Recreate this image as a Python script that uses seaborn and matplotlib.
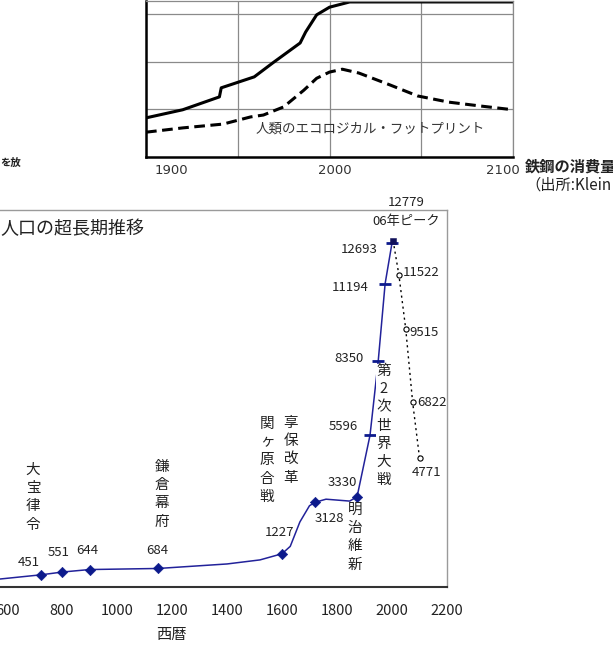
import matplotlib
matplotlib.use("Agg")
import matplotlib.pyplot as plt
import seaborn as sns

W, H = 613, 648

# upper panel (cropped): steel consumption (solid) and ecological footprint (dashed)
steel_year = [1900, 1920, 1940, 1941, 1959, 1969, 1984, 1987, 1993, 2000, 2011, 2100]
steel_val = [0.82, 0.99, 1.26, 1.45, 1.68, 1.97, 2.39, 2.62, 2.98, 3.14, 3.25, 3.25]
fp_year = [1900, 1920, 1942, 1957, 1964, 1975, 1986, 1993, 2000, 2007, 2016, 2033, 2048, 2065, 2082, 2100]
fp_val = [0.52, 0.61, 0.69, 0.84, 0.88, 1.05, 1.40, 1.65, 1.78, 1.84, 1.76, 1.51, 1.28, 1.15, 1.07, 0.99]

# lower panel: population (10 thousand people)
hist_year = [725, 800, 900, 1150, 1600, 1721, 1873]
hist_pop = [451, 551, 644, 684, 1227, 3128, 3330]
modern_year = [1920, 1950, 1975, 2000]
modern_pop = [5596, 8350, 11194, 12693]
peak_year = [2004]
peak_pop = [12779]
proj_year = [2004, 2025, 2050, 2075, 2100]
proj_pop = [12779, 11522, 9515, 6822, 4771]
# curve traced through the picture
trace_year = [575, 725, 800, 900, 1150, 1400, 1520, 1600, 1630, 1665, 1700, 1721,
              1760, 1846, 1873, 1920, 1950, 1975, 2000, 2004]
trace_pop = [295, 451, 551, 644, 684, 850, 1000, 1227, 1500, 2400, 3000, 3128,
             3240, 3170, 3330, 5596, 8350, 11194, 12693, 12779]

x_ticks = [600, 800, 1000, 1200, 1400, 1600, 1800, 2000, 2200]
events = ["大宝律令", "鎌倉幕府", "関ヶ原合戦", "享保改革", "明治維新", "第2次世界大戦"]

sns.set_style("white")
plt.rcParams["font.family"] = ["Noto Sans CJK JP", "DejaVu Sans"]

BLUE = "#22229a"
fig = plt.figure(figsize=(W / 100, H / 100), dpi=100)


def ftext(x, y, s, **kw):
    fig.text(x / W, 1 - y / H, s, **kw)


# ---------------- top panel ----------------
ax = fig.add_axes([146 / W, 1 - 157 / H, (513 - 146) / W, 156 / H])
sns.lineplot(x=steel_year, y=steel_val, ax=ax, color="black", lw=2.2, sort=False, estimator=None)
sns.lineplot(x=fp_year, y=fp_val, ax=ax, color="black", lw=2.2, sort=False, estimator=None,
             dashes=False).lines[-1].set_dashes((3.5, 1.8))
ax.set_xlim(1900, 2100)
ax.set_ylim(0, 3.27)
ax.set_yticks([1, 2, 3])
ax.set_yticklabels([])
ax.set_xticks([1900, 1950, 2000, 2050, 2100])
ax.set_xticklabels([])
ax.grid(True, color="#8a8a8a", lw=0.9)
ax.tick_params(axis="x", length=4, width=1, color="black", direction="out")
ax.tick_params(axis="y", length=0)
for s in ["left", "bottom"]:
    ax.spines[s].set_color("black")
    ax.spines[s].set_linewidth(1.8)
for s in ["top", "right"]:
    ax.spines[s].set_color("#8a8a8a")
    ax.spines[s].set_linewidth(0.9)
ax.text(2022, 0.6, "人類のエコロジカル・フットプリント", fontsize=9.7, ha="center", va="center",
        color="#333333")

for lbl, xx in [("1900", 171), ("2000", 335), ("2100", 503)]:
    ftext(xx, 170, lbl, fontsize=9.5, ha="center", va="center", color="#333333",
          family="DejaVu Sans")
ftext(525, 167, "鉄鋼の消費量", fontsize=11, fontweight="bold", va="center", color="#222222",
      bbox=dict(facecolor="white", edgecolor="none", pad=1))
ftext(525, 185, "（出所:Klein", fontsize=11, va="center", color="#222222")
ftext(0, 163, "を放", fontsize=7.5, fontweight="bold", va="center", color="#222222")

# ---------------- bottom panel ----------------
bx = fig.add_axes([0, 1 - 587 / H, 447 / W, (587 - 210) / H])
sns.lineplot(x=trace_year, y=trace_pop, ax=bx, color=BLUE, lw=1.1, sort=False, estimator=None)
sns.lineplot(x=proj_year, y=proj_pop, ax=bx, color="black", lw=1.0, sort=False, estimator=None,
             dashes=False).lines[-1].set_dashes((1.5, 2.5))
sns.scatterplot(x=hist_year, y=hist_pop, ax=bx, marker="D", s=28, color="#0c1a8c",
                edgecolor="#0c1a8c", zorder=4)
sns.scatterplot(x=modern_year, y=modern_pop, ax=bx, marker="_", s=70, color="#0c1a8c",
                linewidth=2, zorder=4)
sns.scatterplot(x=peak_year, y=peak_pop, ax=bx, marker="s", s=22, color="#10105a",
                edgecolor="#10105a", zorder=4)
sns.scatterplot(x=proj_year[1:], y=proj_pop[1:], ax=bx, marker="o", s=14, color="white",
                edgecolor="black", linewidth=0.8, zorder=4)
bx.set_xlim(574.5, 2200)
bx.set_ylim(0, 13911)
bx.set_xticks(x_ticks)
bx.set_xticklabels([str(t) for t in x_ticks], fontsize=10.5, color="#222222")
bx.set_yticks([])
bx.tick_params(axis="x", length=4, width=1, color="#333333", direction="out", pad=8)
bx.spines["left"].set_visible(False)
bx.spines["bottom"].set_color("#333333")
bx.spines["bottom"].set_linewidth(1.5)
for s in ["top", "right"]:
    bx.spines[s].set_color("#9a9a9a")
    bx.spines[s].set_linewidth(1.0)
bx.set_xlabel("")
ftext(171, 635, "西暦", fontsize=11, ha="center", va="center", color="#222222")
ftext(0, 229, "人口の超長期推移", fontsize=13, va="center", color="#222222")

# value labels
val_pos = [(29, 562), (59, 552), (87, 550), (157, 550), (280, 533), (329, 519), (342, 483),
           (343, 426), (349, 359), (350, 287), (359, 250)]
for (xx, yy), v in zip(val_pos, hist_pop + modern_pop):
    ftext(xx, yy, str(v), fontsize=9.5, ha="center", va="center", color="#222222")
ftext(406, 203, str(peak_pop[0]), fontsize=9.5, ha="center", va="center", color="#222222")
ftext(406, 222, "06年ピーク", fontsize=9.5, ha="center", va="center", color="#222222")
for (xx, yy), v in zip([(421, 273), (424, 332), (432, 403), (427, 473)], proj_pop[1:]):
    ftext(xx, yy, str(v), fontsize=9.5, ha="center", va="center", color="#222222")

# vertical event labels
ev_pos = [(33, 463), (162, 460), (267, 417), (291, 416), (355, 503), (384, 364)]
for (xx, yy), ev in zip(ev_pos, events):
    kw = {}
    if ev.startswith("第"):
        kw["bbox"] = dict(facecolor="white", edgecolor="none", pad=0.3)
    ftext(xx, yy, "\n".join(ev), fontsize=10.5, ha="center", va="top", linespacing=1.38,
          color="#222222", **kw)

fig.savefig("out.png", dpi=100)
